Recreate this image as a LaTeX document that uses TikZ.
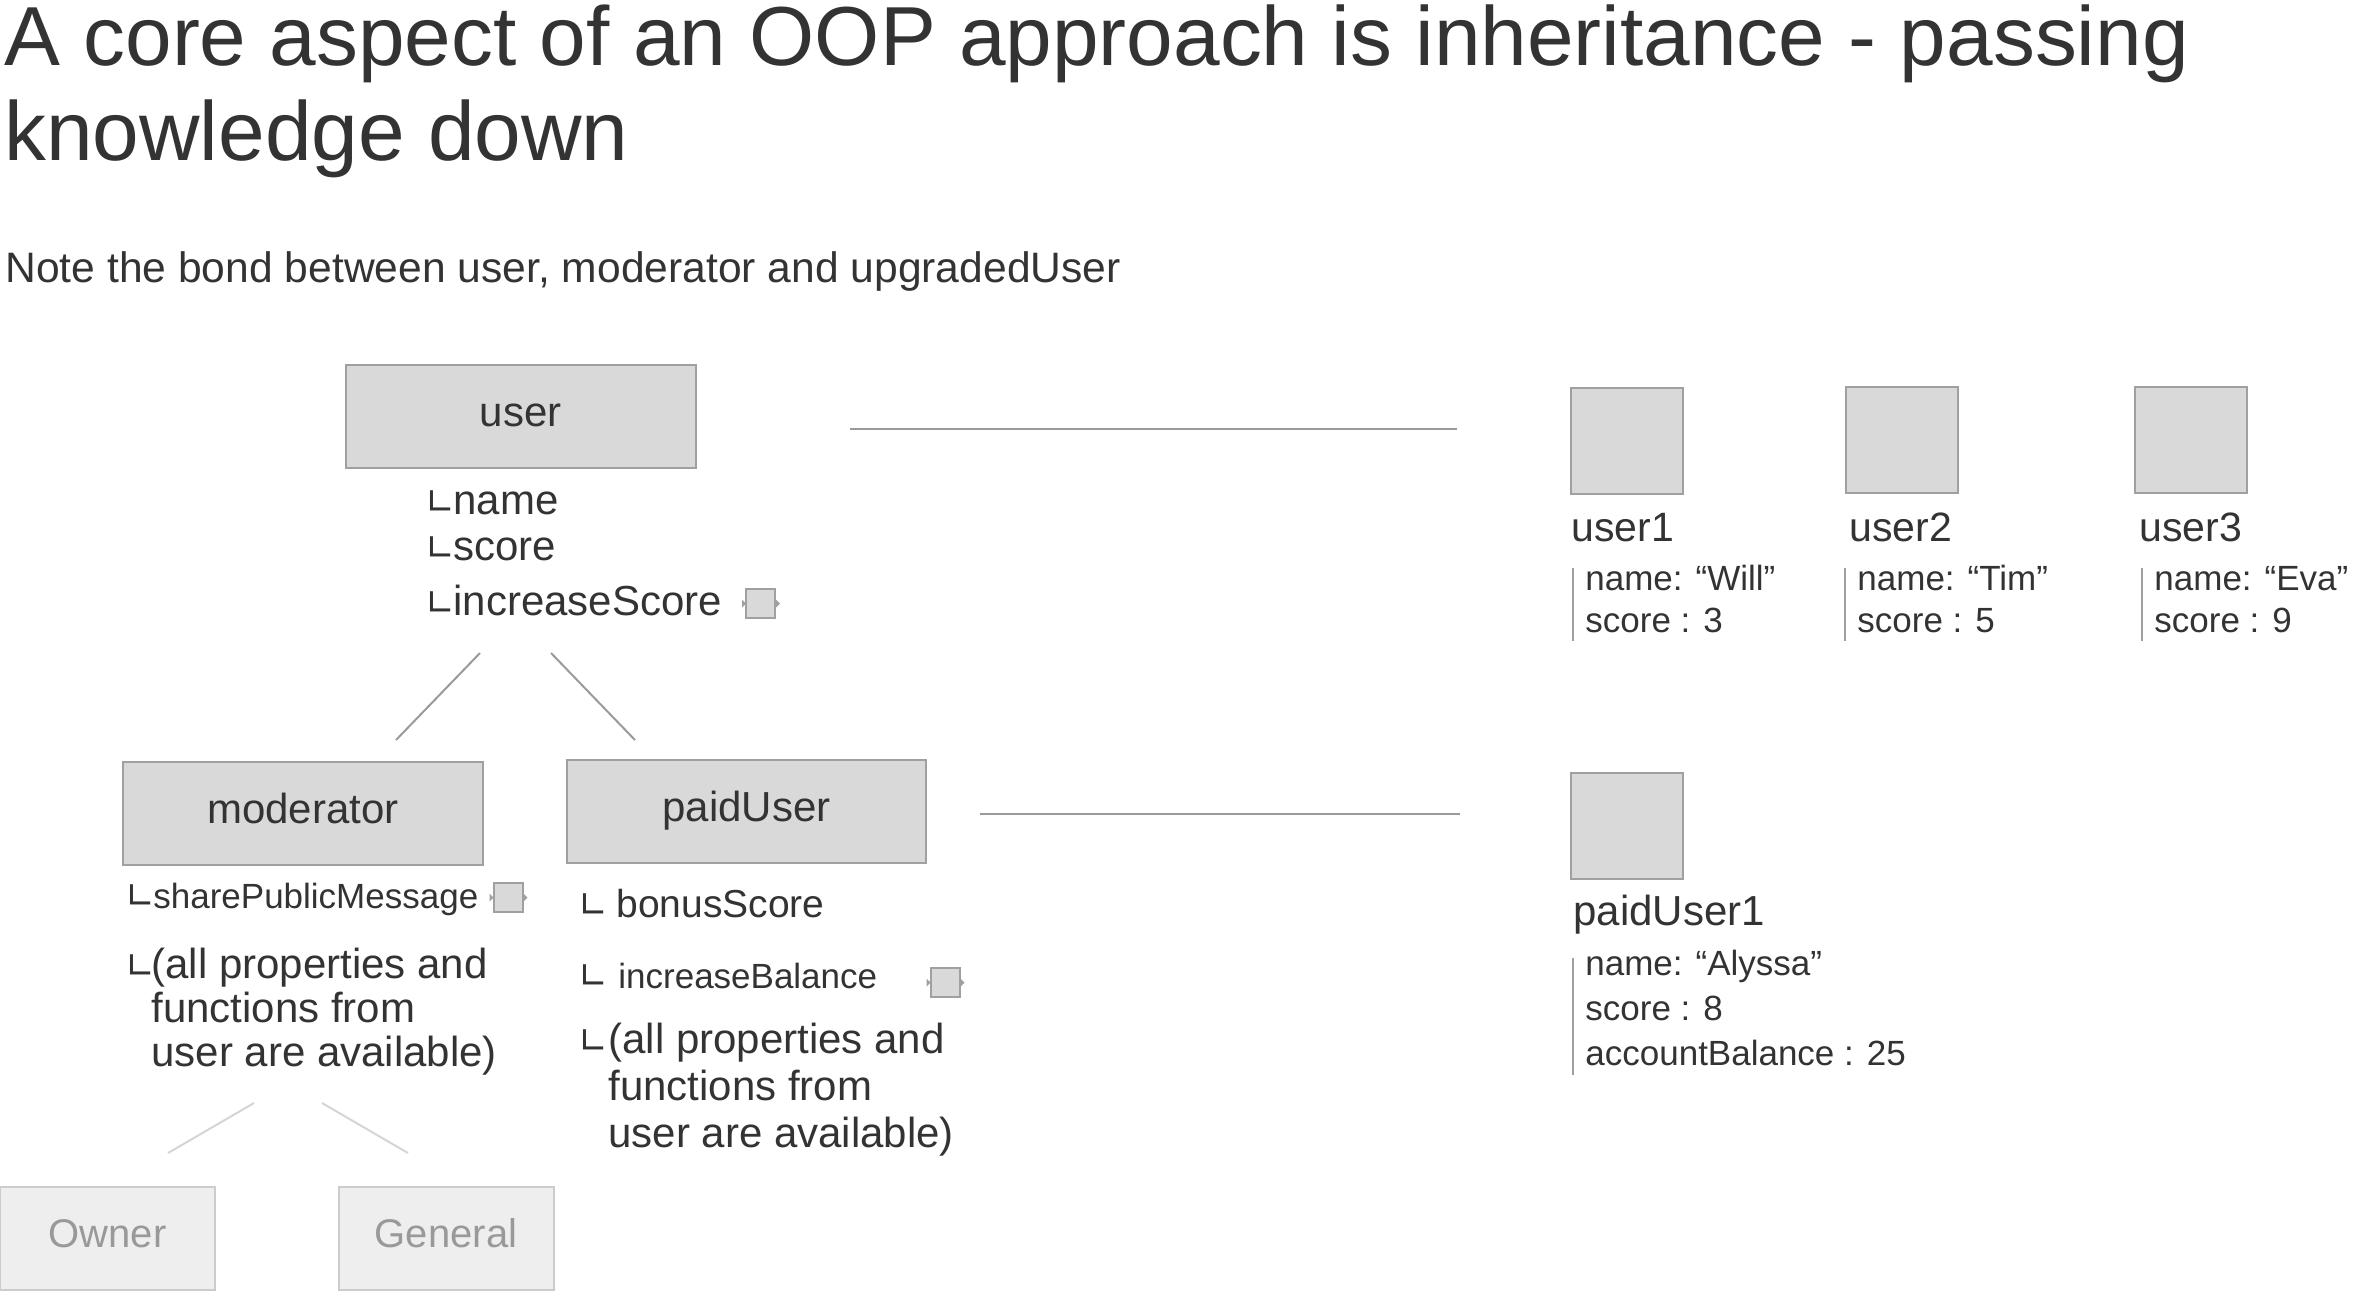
\documentclass[tikz,border=0pt]{standalone}
\usepackage{fontspec}
\setmainfont{Liberation Sans}
\newfontfamily\boxfont{DejaVu Sans}

\definecolor{ink}{HTML}{333333}
\definecolor{boxfill}{HTML}{D9D9D9}
\definecolor{boxline}{HTML}{A0A0A0}
\definecolor{linkgray}{HTML}{9A9A9A}
\definecolor{fadefill}{HTML}{EEEEEE}
\definecolor{fadeline}{HTML}{CCCCCC}
\definecolor{fadetext}{HTML}{999999}
\definecolor{fadelink}{HTML}{D5D5D5}

\newcommand{\branch}{\makebox[14pt][l]{\boxfont\fontsize{18}{18}\selectfont ∟}}
\newcommand{\lines}[1]{\begin{tabular}[t]{@{}l@{}}#1\end{tabular}}

\tikzset{
  classbox/.style={draw=boxline, fill=boxfill, line width=1pt, inner sep=0pt,
    minimum width=175pt, minimum height=51.5pt, text height=12pt, text depth=2pt,
    font=\fontsize{21}{25}\selectfont},
  fadedbox/.style={draw=fadeline, fill=fadefill, line width=1pt, inner sep=0pt,
    minimum width=107.5pt, minimum height=51.5pt, text height=11pt, text depth=2.5pt,
    text=fadetext, font=\fontsize{20}{24}\selectfont},
  objbox/.style={draw=boxline, fill=boxfill, line width=1pt, inner sep=0pt,
    minimum width=56pt, minimum height=53pt},
  methodicon/.style={draw=boxline, fill=boxfill, line width=1pt, inner sep=0pt,
    minimum size=14.5pt},
  attr/.style={anchor=base west, inner sep=0pt, font=\fontsize{21}{23.5}\selectfont},
  objlabel/.style={anchor=base west, inner sep=0pt, font=\fontsize{20.5}{25}\selectfont},
  objattr/.style={anchor=base west, inner xsep=6pt, inner ysep=0pt,
    font=\fontsize{17.5}{21}\selectfont},
  attrbar/.style={draw=boxline, line width=0.8pt},
  link/.style={draw=linkgray, line width=1pt},
  fadedlink/.style={draw=fadelink, line width=1pt}
}

\begin{document}
\begin{tikzpicture}[x=0.5pt, y=-0.5pt, every node/.style={text=ink}]
\useasboundingbox (0,0) rectangle (2360,1302);

% headings
\node[anchor=base west, inner sep=0pt, font=\fontsize{41.9}{47.5}\selectfont] (title) at (4,65)
  {\lines{A core aspect of an OOP approach is inheritance - passing\\knowledge down}};
\node[anchor=base west, inner sep=0pt, font=\fontsize{21.3}{25}\selectfont] (note) at (5,282)
  {Note the bond between user, moderator and upgradedUser};

% user class
\node[classbox] (user) at (520.5,416.5) {user};
\node[attr] (username) at (425,514) {\branch name};
\node[attr] (userscore) at (425,560) {\branch score};
\node[attr] (userinc) at (425,615) {\branch increaseScore};
\node[methodicon] (incicon) at (760.5,603.5) {};

% moderator class
\node[classbox, minimum width=180pt] (moderator) at (303,813.5) {moderator};
\node[attr, font=\fontsize{17.5}{20}\selectfont] (modshare) at (125,908) {\branch sharePublicMessage};
\node[methodicon] (shareicon) at (508,897.5) {};
\node[attr, font=\fontsize{21}{22}\selectfont] (modinherit) at (125,978)
  {\branch\hspace{-1pt}\lines{(all properties and\\functions from\\user are available)}};

% paidUser class
\node[classbox, minimum width=179.5pt] (paiduser) at (746.5,811) {paidUser};
\node[attr, font=\fontsize{19.5}{22}\selectfont] (paidbonus) at (578,917) {\branch\hspace{5pt}bonusScore};
\node[attr, font=\fontsize{17.5}{20}\selectfont] (paidinc) at (578,988) {\branch\hspace{6pt}increaseBalance};
\node[methodicon] (balanceicon) at (945,982.5) {};
\node[attr] (paidinherit) at (578,1053)
  {\branch\hspace{1pt}\lines{(all properties and\\functions from\\user are available)}};

% faded subclasses
\node[fadedbox] (owner) at (107.5,1238.5) {Owner};
\node[fadedbox] (general) at (446,1238.5) {General};

% instances of user
\node[objbox] (user1) at (1626.5,441) {};
\node[objlabel] (user1name) at (1571,541) {user1};
\node[objattr] (user1attr) at (1573,590) {\lines{name: “Will”\\score : 3}};
\node[objbox] (user2) at (1901.5,440) {};
\node[objlabel] (user2name) at (1849,541) {user2};
\node[objattr] (user2attr) at (1845,590) {\lines{name: “Tim”\\score : 5}};
\node[objbox] (user3) at (2191,440) {};
\node[objlabel] (user3name) at (2139,541) {user3};
\node[objattr] (user3attr) at (2142,590) {\lines{name: “Eva”\\score : 9}};

% instance of paidUser
\node[objbox] (paiduser1) at (1627,826) {};
\node[anchor=base west, inner sep=0pt, font=\fontsize{21}{25}\selectfont] (paiduser1name) at (1573,925) {paidUser1};
\node[anchor=base west, inner xsep=6pt, inner ysep=0pt, font=\fontsize{17.5}{22.5}\selectfont] (paiduser1attr) at (1573,975)
  {\lines{name: “Alyssa”\\score : 8\\accountBalance : 25}};

% attribute bars
\draw[attrbar] ([yshift=-4pt]user1attr.north west) -- ([yshift=2pt]user1attr.south west);
\draw[attrbar] ([yshift=-4pt]user2attr.north west) -- ([yshift=2pt]user2attr.south west);
\draw[attrbar] ([yshift=-4pt]user3attr.north west) -- ([yshift=2pt]user3attr.south west);
\draw[attrbar] ([yshift=-7.5pt]paiduser1attr.north west) -- ([yshift=2pt]paiduser1attr.south west);

% method icon tips
\fill[boxline] (incicon.west) ++(-3,-4) -- ++(4,4) -- ++(-4,4) -- cycle;
\fill[boxline] (incicon.east) ++(0,-4) -- ++(4,4) -- ++(-4,4) -- cycle;
\fill[boxline] (shareicon.west) ++(-3,-4) -- ++(4,4) -- ++(-4,4) -- cycle;
\fill[boxline] (shareicon.east) ++(0,-4) -- ++(4,4) -- ++(-4,4) -- cycle;
\fill[boxline] (balanceicon.west) ++(-3,-4) -- ++(4,4) -- ++(-4,4) -- cycle;
\fill[boxline] (balanceicon.east) ++(0,-4) -- ++(4,4) -- ++(-4,4) -- cycle;

% connector ends
\coordinate (userleg1) at (480,653);
\coordinate (modtop) at (396,740);
\coordinate (userleg2) at (551,653);
\coordinate (paidtop) at (635,740);
\coordinate (userout) at (850,429);
\coordinate (userin) at (1457,429);
\coordinate (paidout) at (980,814);
\coordinate (paidin) at (1460,814);
\coordinate (modleg1) at (254,1103);
\coordinate (ownertop) at (168,1153);
\coordinate (modleg2) at (322,1103);
\coordinate (generaltop) at (408,1153);

\draw[link] (userleg1) -- (modtop);
\draw[link] (userleg2) -- (paidtop);
\draw[link] (userout) -- (userin);
\draw[link] (paidout) -- (paidin);
\draw[fadedlink] (modleg1) -- (ownertop);
\draw[fadedlink] (modleg2) -- (generaltop);
\end{tikzpicture}
\end{document}
